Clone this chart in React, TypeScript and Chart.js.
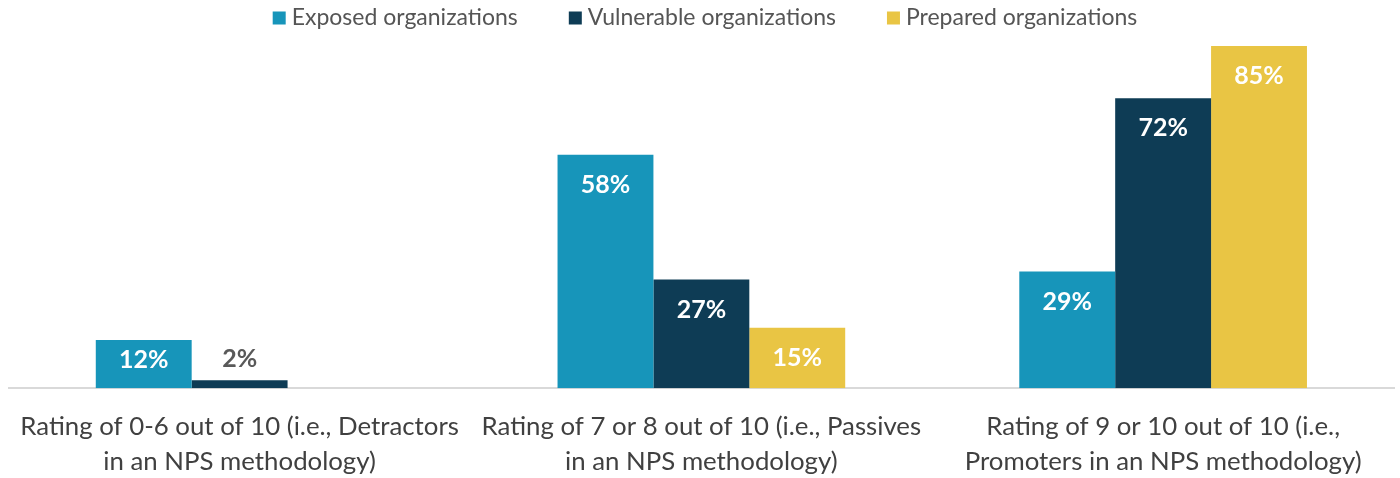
import React, { useEffect, useRef } from "react";
import { Chart, registerables } from "chart.js";

Chart.register(...registerables);

const categories: string[][] = [
  ["Rating of 0-6 out of 10 (i.e., Detractors", "in an NPS methodology)"],
  ["Rating of 7 or 8 out of 10 (i.e., Passives", "in an NPS methodology)"],
  ["Rating of 9 or 10 out of 10 (i.e.,", "Promoters in an NPS methodology)"],
];
const seriesNames = ["Exposed organizations", "Vulnerable organizations", "Prepared organizations"];
const exposed = [12, 58, 29];
const vulnerable = [2, 27, 72];
const prepared = [0, 15, 85];
const colors = ["#1795BA", "#0E3C55", "#E9C544"];

const FONT = "Lato, 'Source Sans Pro', 'Noto Sans', sans-serif";

const labelPlugin = {
  id: "barLabels",
  afterDatasetsDraw(chart: any) {
    const ctx = chart.ctx;
    ctx.save();
    ctx.font = `bold 25px ${FONT}`;
    ctx.textAlign = "center";
    ctx.textBaseline = "middle";
    chart.data.datasets.forEach((ds: any, di: number) => {
      const meta = chart.getDatasetMeta(di);
      meta.data.forEach((bar: any, i: number) => {
        const v = ds.data[i];
        if (!v) return;
        const h = bar.base - bar.y;
        if (h < 30) {
          ctx.fillStyle = "#595959";
          ctx.fillText(`${v}%`, bar.x, bar.y - 21);
        } else {
          ctx.fillStyle = "#ffffff";
          const y = h < 60 ? bar.y + 20 : bar.y + 30;
          ctx.fillText(`${v}%`, bar.x, y);
        }
      });
    });
    ctx.restore();
  },
};

const legendPlugin = {
  id: "customLegend",
  afterDraw(chart: any) {
    const ctx = chart.ctx;
    ctx.save();
    ctx.font = `23px ${FONT}`;
    ctx.textBaseline = "middle";
    ctx.textAlign = "left";
    const box = 13;
    const gap = 6;
    const itemGap = 51;
    const widths = seriesNames.map((n) => box + gap + ctx.measureText(n).width);
    const total = widths.reduce((a, b) => a + b, 0) + itemGap * (seriesNames.length - 1);
    let x = 705 - total / 2;
    const cy = 18;
    seriesNames.forEach((n, i) => {
      ctx.fillStyle = colors[i];
      ctx.fillRect(x, cy - box / 2, box, box);
      ctx.fillStyle = "#555555";
      ctx.fillText(n, x + box + gap, cy);
      x += widths[i] + itemGap;
    });
    ctx.restore();
  },
};

export default function App() {
  const ref = useRef<HTMLCanvasElement>(null);
  useEffect(() => {
    if (!ref.current) return;
    const chart = new Chart(ref.current, {
      type: "bar",
      data: {
        labels: categories,
        datasets: [exposed, vulnerable, prepared].map((d, i) => ({
          label: seriesNames[i],
          data: d,
          backgroundColor: colors[i],
          borderWidth: 0,
          categoryPercentage: 0.623,
          barPercentage: 1,
        })),
      },
      options: {
        responsive: true,
        maintainAspectRatio: false,
        animation: false,
        layout: { padding: { left: 2, right: 6, top: 46, bottom: -22 } },
        plugins: {
          legend: { display: false },
          tooltip: { enabled: false },
        },
        scales: {
          x: {
            grid: { display: false, drawTicks: false },
            border: { color: "#d9d9d9", width: 2 },
            ticks: {
              color: "#404040",
              font: { family: FONT, size: 25.8, lineHeight: 1.39 },
              maxRotation: 0,
              autoSkip: false,
              padding: 20,
            },
          },
          y: {
            display: false,
            min: 0,
            max: 85,
          },
        },
      },
      plugins: [labelPlugin, legendPlugin],
    });
    return () => chart.destroy();
  }, []);
  return (
    <div style={{ position: "fixed", left: 0, top: 0, width: 1400, height: 478, background: "#fff" }}>
      <canvas ref={ref} />
    </div>
  );
}
